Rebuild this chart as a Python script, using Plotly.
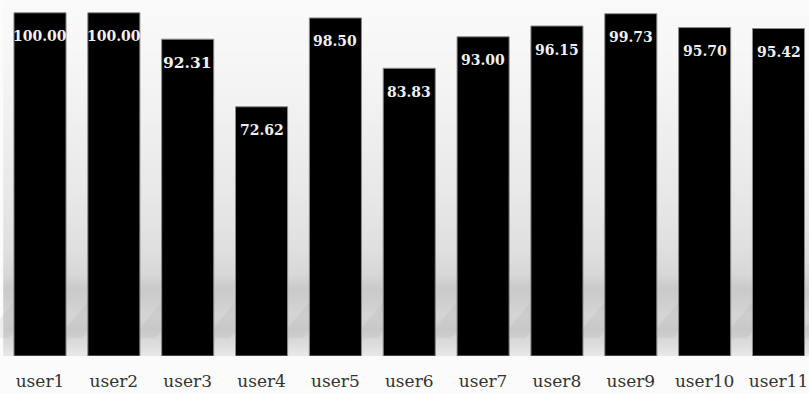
import plotly.graph_objects as go

categories = ["user1", "user2", "user3", "user4", "user5", "user6",
              "user7", "user8", "user9", "user10", "user11"]
values = [100.00, 100.00, 92.31, 72.62, 98.50, 83.83, 93.00, 96.15, 99.73, 95.70, 95.42]
labels = ["100.00", "100.00", "92.31", "72.62", "98.50", "83.83",
          "93.00", "96.15", "99.73", "95.70", "95.42"]
label_sizes = [14, 14, 15.5, 14, 14, 14, 14, 14, 14, 14, 14]

W, H = 809, 394
MB = 38
PH = H - MB  # plot height in px

fig = go.Figure()
fig.add_trace(go.Bar(
    x=categories, y=values, width=0.705,
    marker=dict(color="#000000", line=dict(color="#8a8a8a", width=1)),
    hoverinfo="x+y",
))

for c, v, t, s in zip(categories, values, labels, label_sizes):
    fig.add_annotation(x=c, y=v, text=f"<b>{t}</b>", showarrow=False,
                       yanchor="middle", yshift=-23.5,
                       font=dict(family="DejaVu Serif", size=s, color="#f0f0f0"))

# background gradient (px from top of plot area -> grey level)
stops = [(0, 250), (60, 246), (120, 240), (200, 231), (250, 223), (275, 215),
         (288, 202), (300, 205), (315, 213), (330, 208), (345, 221), (356, 232)]

def level(p):
    for (p0, g0), (p1, g1) in zip(stops[:-1], stops[1:]):
        if p0 <= p <= p1:
            return g0 + (g1 - g0) * (p - p0) / (p1 - p0)
    return stops[-1][1]

shapes = []
step = 2
p = 0
while p < PH:
    g = int(round(level(p + step / 2)))
    shapes.append(dict(type="rect", xref="paper", yref="paper",
                       x0=0.004, x1=1, y0=1 - (p + step) / PH, y1=1 - p / PH,
                       fillcolor=f"rgb({g},{g},{g})", line=dict(width=0),
                       layer="below"))
    p += step
# soft diagonal reflection streaks
for i in range(12):
    cx = -0.02 + i * 0.0913
    shapes.append(dict(type="path", xref="paper", yref="paper",
                       path=(f"M {cx:.4f},{0.05} L {cx+0.03:.4f},{0.05} "
                             f"L {cx+0.07:.4f},{0.16} L {cx+0.04:.4f},{0.16} Z"),
                       fillcolor="rgba(150,150,150,0.12)", line=dict(width=0),
                       layer="below"))

px_per_unit = 343.2 / 100
fig.update_layout(
    width=W, height=H,
    margin=dict(l=0, r=0, t=0, b=MB),
    paper_bgcolor="#fbfbfb", plot_bgcolor="rgba(0,0,0,0)",
    showlegend=False, shapes=shapes,
    xaxis=dict(range=[-0.5416, 10.413], showgrid=False, zeroline=False,
               showline=False, ticks="outside", ticklen=10,
               tickcolor="rgba(0,0,0,0)", automargin=False,
               tickfont=dict(family="DejaVu Serif", size=17, color="#333333")),
    yaxis=dict(range=[0, PH / px_per_unit], visible=False, showgrid=False,
               zeroline=False, automargin=False),
    bargap=0.3,
)

fig.write_html("out.html")
